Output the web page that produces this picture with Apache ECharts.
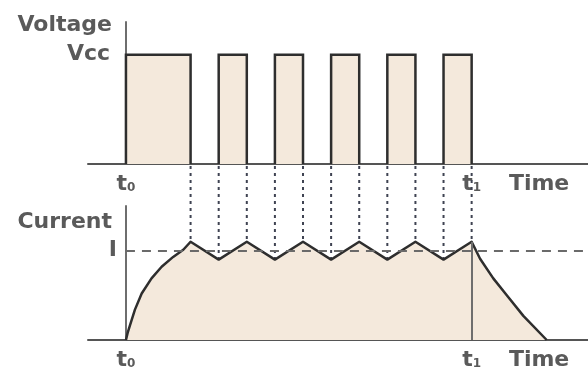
<!DOCTYPE html>
<html>

<head>
    <meta charset="utf-8">
    <script type="text/javascript" src="https://cdn.jsdelivr.net/npm/echarts@6/dist/echarts.min.js"></script>
    <title>Voltage / Current</title>
</head>

<body style="margin:0;background:#fff;">
    <div id="container" style="width:588px;height:371px;"></div>
    <script type="text/javascript">
    // data (time in arbitrary units, t0 = 0)
    var pulseStart = [0, 3.3, 5.3, 7.3, 9.3, 11.3];
    var pulseEnd = [2.3, 4.3, 6.3, 8.3, 10.3, 12.3];
    var vcc = 1;

    // current: rise, ripple, decay
    var riseX = [0, 0.06, 0.14, 0.32, 0.56, 0.91, 1.27, 1.68, 2.04];
    var riseY = [0, 0.08, 0.16, 0.34, 0.52, 0.69, 0.82, 0.93, 1.01];
    var rippleX = [2.3, 3.3, 4.3, 5.3, 6.3, 7.3, 8.3, 9.3, 10.3, 11.3, 12.3];
    var rippleY = [1.1, 0.9, 1.1, 0.9, 1.1, 0.9, 1.1, 0.9, 1.1, 0.9, 1.1];
    var decayX = [12.6, 13.07, 13.55, 14.14, 14.97];
    var decayY = [0.91, 0.69, 0.5, 0.27, 0];
    var iLevel = 1;

    // tick labels
    var timeTicks = [0, 12.3, 14.7];
    var timeLabels = ['t0', 't1', 'Time'];

    var xMin = -1.35, xMax = 16.44;
    var topGrid = { left: 88, right: 0, top: 22, height: 142 };
    var botGrid = { left: 88, right: 0, top: 206, height: 141 };
    var topBaseY = topGrid.top + topGrid.height;

    var fillColor = '#f4e9dc';
    var inkColor = '#2e2e2e';
    var axisColor = '#6e6e6e';
    var textColor = '#5a5a5a';
    var fontFamily = 'DejaVu Sans';

    function zip(xs, ys) {
        return xs.map(function (x, i) { return [x, ys[i]]; });
    }

    var pulses = pulseStart.map(function (s, i) { return [s, pulseEnd[i], vcc]; });
    var current = zip(riseX, riseY).concat(zip(rippleX, rippleY), zip(decayX, decayY));

    function timeFormatter(value) {
        var i = timeTicks.indexOf(value);
        var s = timeLabels[i] || '';
        if (s.length == 2 && s[0] == 't') {
            return '{t|t}{s|' + s[1] + '}';
        }
        return '{w|' + s + '}';
    }

    var labelRich = {
        t: { fontSize: 22, fontWeight: 'bold', color: textColor, fontFamily: fontFamily },
        s: { fontSize: 12, fontWeight: 'bold', color: textColor, fontFamily: fontFamily, padding: [8, 0, 0, 0] },
        w: { fontSize: 22, fontWeight: 'bold', color: textColor, fontFamily: fontFamily }
    };

    function xAxisOf(gridIndex) {
        return {
            gridIndex: gridIndex,
            type: 'value',
            min: xMin,
            max: xMax,
            splitLine: { show: false },
            axisTick: { show: false },
            axisLine: { show: true, onZero: true, lineStyle: { color: '#555', width: 2 } },
            axisLabel: {
                customValues: timeTicks,
                formatter: timeFormatter,
                rich: labelRich,
                margin: 9,
                hideOverlap: false
            }
        };
    }

    // labels sit at the grid edge (x=88), so margin is negative to push them next to the axis line at t0
    function yAxisOf(gridIndex, max, tick, label, margin, pad) {
        return {
            gridIndex: gridIndex,
            type: 'value',
            min: 0,
            max: max,
            splitLine: { show: false },
            axisTick: { show: false },
            axisLine: { show: true, onZero: true, lineStyle: { color: axisColor, width: 2 } },
            axisLabel: {
                customValues: [tick],
                formatter: function () { return label; },
                margin: margin,
                padding: pad,
                fontSize: 22,
                fontWeight: 'bold',
                color: textColor,
                fontFamily: fontFamily
            }
        };
    }

    function renderPulse(params, api) {
        var a = api.coord([api.value(0), api.value(2)]);
        var b = api.coord([api.value(1), 0]);
        return {
            type: 'group',
            children: [{
                type: 'rect',
                shape: { x: a[0], y: a[1], width: b[0] - a[0], height: b[1] - a[1] },
                style: { fill: fillColor }
            }, {
                type: 'polyline',
                shape: { points: [[a[0], b[1]], [a[0], a[1]], [b[0], a[1]], [b[0], b[1]]] },
                style: { stroke: inkColor, lineWidth: 2.5, fill: null }
            }]
        };
    }

    // dotted guides from the top baseline down to the current curve
    function renderGuide(params, api) {
        var p = api.coord([api.value(0), api.value(1)]);
        return {
            type: 'line',
            shape: { x1: p[0], y1: topBaseY + 2, x2: p[0], y2: p[1] },
            style: { stroke: '#3f4352', lineWidth: 2, lineDash: [3, 4] }
        };
    }

    var myChart = echarts.init(document.getElementById('container'));

    var option = {
        animation: false,
        backgroundColor: '#fff',
        grid: [topGrid, botGrid],
        xAxis: [xAxisOf(0), xAxisOf(1)],
        yAxis: [yAxisOf(0, 1.3, vcc, 'Vcc', -22, [5, 0, 0, 0]), yAxisOf(1, 1.5, iLevel, 'I', -29, 0)],
        graphic: [{
            type: 'text', x: 112, y: 25,
            style: { text: 'Voltage', align: 'right', verticalAlign: 'middle', fontSize: 22, fontWeight: 'bold', fill: textColor, fontFamily: fontFamily }
        }, {
            type: 'text', x: 112, y: 222,
            style: { text: 'Current', align: 'right', verticalAlign: 'middle', fontSize: 22, fontWeight: 'bold', fill: textColor, fontFamily: fontFamily }
        }],
        series: [{
            type: 'custom',
            xAxisIndex: 0,
            yAxisIndex: 0,
            renderItem: renderPulse,
            encode: { x: [0, 1], y: 2 },
            data: pulses,
            z: 3
        }, {
            type: 'custom',
            xAxisIndex: 1,
            yAxisIndex: 1,
            renderItem: renderGuide,
            encode: { x: 0, y: 1 },
            data: zip(rippleX, rippleY),
            clip: false,
            z: 2
        }, {
            type: 'line',
            xAxisIndex: 1,
            yAxisIndex: 1,
            symbol: 'none',
            data: current,
            lineStyle: { color: inkColor, width: 2.5, join: 'round' },
            areaStyle: { color: fillColor, opacity: 1 },
            z: 3,
            markLine: {
                silent: true,
                symbol: 'none',
                label: { show: false },
                data: [
                    [{ coord: [0, iLevel], lineStyle: { color: '#6a6a6a', width: 2, type: [9, 7] } }, { coord: [xMax, iLevel] }],
                    [{ coord: [pulseEnd[pulseEnd.length - 1], 0], lineStyle: { color: axisColor, width: 2, type: 'solid' } },
                     { coord: [pulseEnd[pulseEnd.length - 1], rippleY[rippleY.length - 1]] }]
                ]
            }
        }]
    };

    myChart.setOption(option);
    </script>
</body>

</html>
